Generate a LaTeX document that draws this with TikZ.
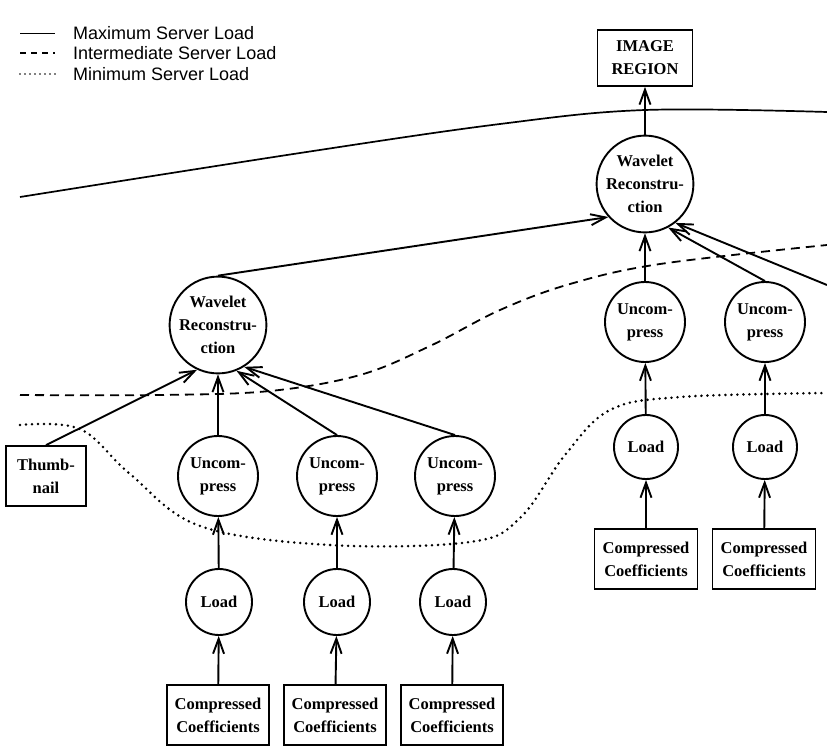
\documentclass[tikz,border=0pt]{standalone}
\usepackage{fontspec}
\setmainfont{Liberation Serif}
\setsansfont{Liberation Sans}
\usetikzlibrary{arrows.meta}

\begin{document}
\begin{tikzpicture}[x=1pt,y=-1pt,
    proc/.style={draw,circle,line width=1.9pt,inner sep=0pt,align=center,
      font=\bfseries\fontsize{16.5}{23}\selectfont},
    store/.style={draw,rectangle,line width=1.7pt,inner sep=0pt,align=center,
      font=\bfseries\fontsize{16.5}{23}\selectfont},
    arr/.style={line width=1.9pt,-{Straight Barb[length=15pt,width=11pt]}},
    key/.style={anchor=west,inner sep=0pt,font=\sffamily\fontsize{18}{20}\selectfont}]
  \useasboundingbox (0,0) rectangle (827,747);

  % legend
  \draw[line width=1pt] (20,33) -- (55,33);
  \draw[line width=1.4pt,dash pattern=on 6pt off 5pt] (20,53) -- (55,53);
  \draw[line width=1.8pt,line cap=round,dash pattern=on 0pt off 5pt] (20,74) -- (55,74);
  \node[key] (kmax) at (73,33) {Maximum Server Load};
  \node[key] (kint) at (73,53) {Intermediate Server Load};
  \node[key] (kmin) at (73,74) {Minimum Server Load};

  % server load boundaries
  \draw[line width=1.7pt] plot[smooth,tension=0.6] coordinates
    {(20,197) (300,153) (500,124) (645,110) (827,112)};
  \draw[line width=1.8pt,dash pattern=on 9pt off 6pt] plot[smooth,tension=0.6] coordinates
    {(20,395) (160,395) (270,391) (360,375) (430,346) (500,310) (570,284) (660,264) (827,245)};
  \draw[line width=2.8pt,line cap=round,dash pattern=on 0pt off 6pt] plot[smooth,tension=0.6] coordinates
    {(20,425) (80,429) (130,474) (200,526) (330,545) (470,542) (520,518) (565,455) (610,410) (680,397) (827,393)};

  % right branch
  \node[store,minimum width=95,minimum height=56] (img) at (645,58) {IMAGE\\REGION};
  \node[proc,minimum size=86] (wtop) at (645,184) {Wavelet\\Reconstru-\\ction};
  \node[proc,minimum size=80] (ur1) at (645,322) {Uncom-\\press};
  \node[proc,minimum size=80] (ur2) at (765,322) {Uncom-\\press};
  \node[proc,minimum size=64] (lr1) at (646,447) {Load};
  \node[proc,minimum size=64] (lr2) at (765,447) {Load};
  \node[store,minimum width=103,minimum height=60] (cr1) at (646,559) {Compressed\\Coefficients};
  \node[store,minimum width=103,minimum height=60] (cr2) at (764,559) {Compressed\\Coefficients};
  \coordinate (offr) at (827,285);

  % left branch
  \node[proc,minimum size=86] (wleft) at (218,325) {Wavelet\\Reconstru-\\ction};
  \node[store,minimum width=80,minimum height=60] (thumb) at (46,476) {Thumb-\\nail};
  \node[proc,minimum size=80] (u1) at (218,476) {Uncom-\\press};
  \node[proc,minimum size=80] (u2) at (337,476) {Uncom-\\press};
  \node[proc,minimum size=80] (u3) at (455,476) {Uncom-\\press};
  \node[proc,minimum size=66] (l1) at (219,602) {Load};
  \node[proc,minimum size=66] (l2) at (337,602) {Load};
  \node[proc,minimum size=66] (l3) at (453,602) {Load};
  \node[store,minimum width=102,minimum height=60] (c1) at (218,715) {Compressed\\Coefficients};
  \node[store,minimum width=102,minimum height=60] (c2) at (335,715) {Compressed\\Coefficients};
  \node[store,minimum width=102,minimum height=60] (c3) at (452,715) {Compressed\\Coefficients};

  \foreach \n in {1,2,3} {
    \draw[arr] (c\n) -- (l\n);
    \draw[arr] (l\n) -- (u\n);
  }
  \foreach \n in {1,2} {
    \draw[arr] (cr\n) -- (lr\n);
    \draw[arr] (lr\n) -- (ur\n);
  }
  \draw[arr] (thumb.north) -- (wleft.245);
  \draw[arr] (u1) -- (wleft);
  \draw[arr] (u2.north) -- (wleft.292);
  \draw[arr] (u3.north) -- (wleft.302);
  \draw[arr] (wleft.north) -- (wtop.222);
  \draw[arr] (ur1) -- (wtop);
  \draw[arr] (ur2.north) -- (wtop.298);
  \draw[arr] (offr) -- (wtop.308);
  \draw[arr] (wtop) -- (img);
\end{tikzpicture}
\end{document}
